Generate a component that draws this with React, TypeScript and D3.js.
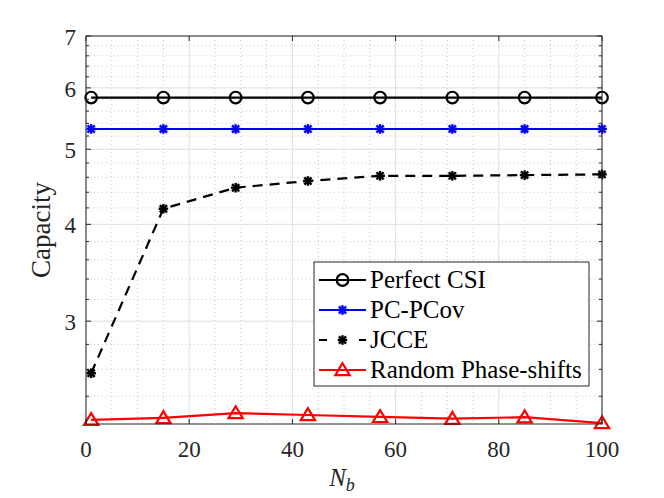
import React from "react";
import * as d3 from "d3";

const xs = [1, 15, 29, 43, 57, 71, 85, 100];
const perfectCSI = [5.83, 5.83, 5.83, 5.83, 5.83, 5.83, 5.83, 5.83];
const pcPCov = [5.31, 5.31, 5.31, 5.31, 5.31, 5.31, 5.31, 5.31];
const jcce = [2.57, 4.19, 4.46, 4.55, 4.62, 4.62, 4.63, 4.64];
const randomPS = [2.237, 2.25, 2.283, 2.27, 2.257, 2.245, 2.255, 2.216];
const xTicks = [0, 20, 40, 60, 80, 100];
const yTicks = [3, 4, 5, 6, 7];
const legendLabels = ["Perfect CSI", "PC-PCov", "JCCE", "Random Phase-shifts"];

const W = 664, H = 498;
const L = 86, R = 602, T = 36, B = 424;
const FONT = "'Liberation Serif', 'Times New Roman', serif";
const AX = "#262626";

export default function App() {
  const x = d3.scaleLinear().domain([0, 100]).range([L, R]);
  const y = d3.scaleLog().domain([2.21, 7]).range([B, T]);

  const xMinor = d3.range(0, 101, 5).filter((v) => v % 20 !== 0);
  const yMinor: number[] = [];
  for (let m = 2; m < 7; m++) {
    for (let k = 1; k <= 4; k++) {
      const v = +(m + k * 0.2).toFixed(2);
      if (v > 2.21 && v < 7) yMinor.push(v);
    }
  }

  const line = d3
    .line<[number, number]>()
    .x((d) => x(d[0]))
    .y((d) => y(d[1]));

  const series = [
    { vals: perfectCSI, color: "#000000", dash: "", marker: "circle" },
    { vals: pcPCov, color: "#0000ff", dash: "", marker: "star" },
    { vals: jcce, color: "#000000", dash: "10,7", marker: "star" },
    { vals: randomPS, color: "#ff0000", dash: "", marker: "tri" },
  ];

  const marker = (type: string, cx: number, cy: number, color: string, key: string) => {
    if (type === "circle")
      return <circle key={key} cx={cx} cy={cy} r={5.8} fill="none" stroke={color} strokeWidth={2.2} />;
    if (type === "tri") {
      const s = 6.8;
      const p = `${cx},${cy - s} ${cx + s * 1.05},${cy + s * 0.75} ${cx - s * 1.05},${cy + s * 0.75}`;
      return <polygon key={key} points={p} fill="none" stroke={color} strokeWidth={2.2} />;
    }
    const s = 4.8, d = 3.6;
    return (
      <g key={key} stroke={color} strokeWidth={2.4}>
        <line x1={cx - s} y1={cy} x2={cx + s} y2={cy} />
        <line x1={cx} y1={cy - s} x2={cx} y2={cy + s} />
        <line x1={cx - d} y1={cy - d} x2={cx + d} y2={cy + d} />
        <line x1={cx - d} y1={cy + d} x2={cx + d} y2={cy - d} />
      </g>
    );
  };

  const legX = 314, legY = 262, legW = 275, legH = 124, rowH = 30;

  return (
    <svg width={W} height={H} style={{ position: "absolute", left: 0, top: 0, background: "#fff" }}>
      <rect x={0} y={0} width={W} height={H} fill="#fff" />
      {/* minor grid */}
      <g stroke="#c8c8c8" strokeWidth={1} strokeDasharray="1,3">
        {xMinor.map((v) => (
          <line key={"xm" + v} x1={x(v)} x2={x(v)} y1={T} y2={B} />
        ))}
        {yMinor.map((v) => (
          <line key={"ym" + v} x1={L} x2={R} y1={y(v)} y2={y(v)} />
        ))}
      </g>
      {/* major grid */}
      <g stroke="#dfdfdf" strokeWidth={1}>
        {xTicks.map((v) => (
          <line key={"xg" + v} x1={x(v)} x2={x(v)} y1={T} y2={B} />
        ))}
        {yTicks.map((v) => (
          <line key={"yg" + v} x1={L} x2={R} y1={y(v)} y2={y(v)} />
        ))}
      </g>
      {/* series */}
      {series.map((s, i) => (
        <g key={"s" + i}>
          <path
            d={line(xs.map((xv, j) => [xv, s.vals[j]] as [number, number])) || ""}
            fill="none"
            stroke={s.color}
            strokeWidth={2.2}
            strokeDasharray={s.dash}
          />
          {xs.map((xv, j) => marker(s.marker, x(xv), y(s.vals[j]), s.color, `m${i}-${j}`))}
        </g>
      ))}
      {/* axes box */}
      <rect x={L} y={T} width={R - L} height={B - T} fill="none" stroke={AX} strokeWidth={1} />
      {/* ticks */}
      <g stroke={AX} strokeWidth={1}>
        {xTicks.map((v) => (
          <g key={"xt" + v}>
            <line x1={x(v)} x2={x(v)} y1={B} y2={B - 5} />
            <line x1={x(v)} x2={x(v)} y1={T} y2={T + 5} />
          </g>
        ))}
        {yTicks.map((v) => (
          <g key={"yt" + v}>
            <line x1={L} x2={L + 5} y1={y(v)} y2={y(v)} />
            <line x1={R} x2={R - 5} y1={y(v)} y2={y(v)} />
          </g>
        ))}
        {yMinor.map((v) => (
          <g key={"ytm" + v}>
            <line x1={L} x2={L + 3} y1={y(v)} y2={y(v)} />
            <line x1={R} x2={R - 3} y1={y(v)} y2={y(v)} />
          </g>
        ))}
      </g>
      {/* tick labels */}
      <g fontFamily={FONT} fontSize={23} fill={AX}>
        {xTicks.map((v) => (
          <text key={"xl" + v} x={x(v)} y={B + 33} textAnchor="middle">
            {v}
          </text>
        ))}
        {yTicks.map((v) => (
          <text key={"yl" + v} x={L - 10} y={y(v) + 9} textAnchor="end">
            {v}
          </text>
        ))}
      </g>
      {/* axis labels */}
      <text x={342} y={486} textAnchor="middle" fontFamily={FONT} fontSize={25} fill={AX} fontStyle="italic">
        N<tspan fontSize={18} dy={5}>b</tspan>
      </text>
      <text
        transform={`translate(50,${(T + B) / 2}) rotate(-90)`}
        textAnchor="middle"
        fontFamily={FONT}
        fontSize={27}
        fill={AX}
      >
        Capacity
      </text>
      {/* legend */}
      <rect x={legX} y={legY} width={legW} height={legH} fill="#fff" stroke={AX} strokeWidth={1} />
      {legendLabels.map((lab, i) => {
        const cy = legY + 18 + i * rowH;
        const s = series[i];
        return (
          <g key={"lg" + i}>
            <line x1={legX + 5} x2={legX + 52} y1={cy} y2={cy} stroke={s.color} strokeWidth={2.2} strokeDasharray={s.dash ? "8,12" : ""} />
            {marker(s.marker, legX + 28.5, cy, s.color, "lm" + i)}
            <text x={legX + 56} y={cy + 8} fontFamily={FONT} fontSize={25} fill="#000">
              {lab}
            </text>
          </g>
        );
      })}
    </svg>
  );
}
